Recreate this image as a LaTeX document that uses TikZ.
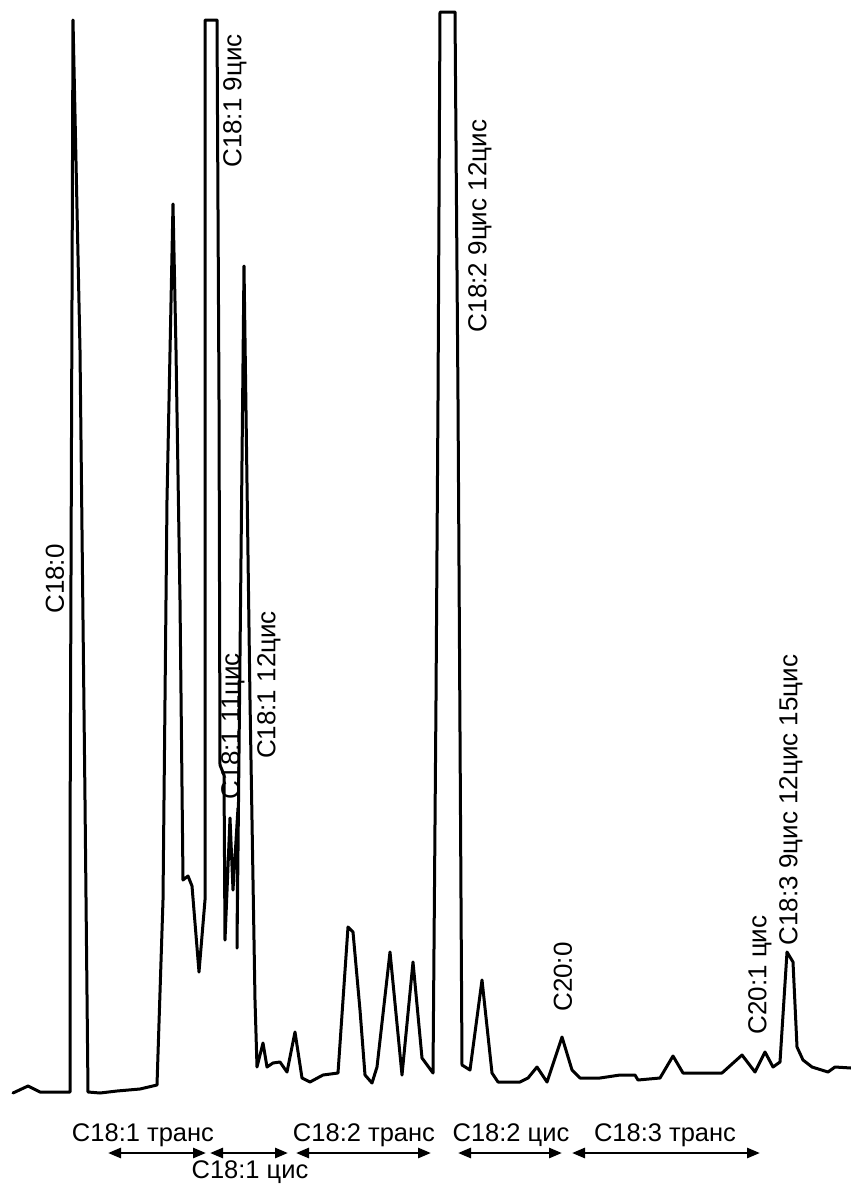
\documentclass[tikz,border=0pt]{standalone}
\usepackage{fontspec}
\setmainfont{Liberation Sans}
\usetikzlibrary{arrows.meta}
\tikzset{
  trace/.style={line width=3pt, line join=round, line cap=round, black},
  lbl/.style={font=\fontsize{26}{28}\selectfont, inner sep=0pt, rotate=90},
  blbl/.style={font=\fontsize{25.5}{28}\selectfont, inner sep=0pt},
  rng/.style={line width=2.6pt, {Triangle[length=13pt,width=10pt]}-{Triangle[length=13pt,width=10pt]}}
}
\begin{document}
\begin{tikzpicture}[x=1pt,y=-1pt]
\useasboundingbox (0,0) rectangle (851,1184);
\fill[white] (0,0) rectangle (851,1184);
% chromatogram trace
\draw[trace] (13,1093) -- (28,1086) -- (40,1092) -- (70,1092) -- (70,850) -- (72,300) -- (73,20)
 -- (80,350) -- (85,800) -- (88,1092) -- (100,1093) -- (117,1091) -- (140,1089) -- (157,1085)
 -- (163,900) -- (167,500) -- (173,204) -- (176,350) -- (180,600) -- (183,880) -- (188,876)
 -- (192,886) -- (199,972) -- (205,900) -- (205,20) -- (217,20) -- (219,400) -- (220,765)
 -- (224,775) -- (225,940) -- (230,818) -- (233,890) -- (238,808) -- (237,948) -- (244,266)
 -- (250,700) -- (255,1000) -- (257,1067) -- (263,1043) -- (267,1067) -- (273,1063) -- (280,1062)
 -- (287,1072) -- (295,1032) -- (302,1078) -- (310,1082) -- (323,1075) -- (338,1073) -- (348,927)
 -- (353,932) -- (360,1010) -- (365,1075) -- (372,1083) -- (377,1067) -- (390,952) -- (402,1075)
 -- (413,962) -- (422,1058) -- (433,1073) -- (436,700) -- (438,400) -- (440,12) -- (455,12)
 -- (458,400) -- (462,1065) -- (470,1070) -- (482,980) -- (492,1073) -- (498,1082) -- (520,1082)
 -- (528,1078) -- (537,1067) -- (547,1082) -- (562,1037) -- (572,1070) -- (580,1078) -- (600,1078)
 -- (620,1075) -- (635,1075) -- (638,1080) -- (660,1078) -- (673,1056) -- (683,1073) -- (722,1073)
 -- (742,1055) -- (755,1072) -- (765,1052) -- (773,1067) -- (780,1062) -- (787,952) -- (793,962)
 -- (797,1047) -- (803,1060) -- (812,1067) -- (828,1072) -- (835,1067) -- (851,1068);
% peak labels
\node[lbl] (p180) at (55,579) {C18:0};
\node[lbl] (p181a) at (235,101) {C18:1 9цис};
\node[lbl] (p181b) at (233,726) {C18:1 11цис};
\node[lbl] (p181c) at (269,685) {C18:1 12цис};
\node[lbl] (p182) at (480,226) {C18:2 9цис 12цис};
\node[lbl] (p200) at (563,977) {C20:0};
\node[lbl] (p201) at (760,975) {C20:1 цис};
\node[lbl] (p183) at (791,800) {C18:3 9цис 12цис 15цис};
% range labels
\node[blbl] (r1) at (143,1135) {C18:1 транс};
\node[blbl] (r2) at (250,1172) {C18:1 цис};
\node[blbl] (r3) at (364,1135) {C18:2 транс};
\node[blbl] (r4) at (511,1135) {C18:2 цис};
\node[blbl] (r5) at (665,1135) {C18:3 транс};
\coordinate (a1l) at (108,1153); \coordinate (a1r) at (206,1153);
\coordinate (a2l) at (210,1153); \coordinate (a2r) at (288,1153);
\coordinate (a3l) at (296,1153); \coordinate (a3r) at (431,1153);
\coordinate (a4l) at (458,1153); \coordinate (a4r) at (562,1153);
\coordinate (a5l) at (572,1153); \coordinate (a5r) at (760,1153);
\draw[rng] (a1l) -- (a1r);
\draw[rng] (a2l) -- (a2r);
\draw[rng] (a3l) -- (a3r);
\draw[rng] (a4l) -- (a4r);
\draw[rng] (a5l) -- (a5r);
\end{tikzpicture}
\end{document}
